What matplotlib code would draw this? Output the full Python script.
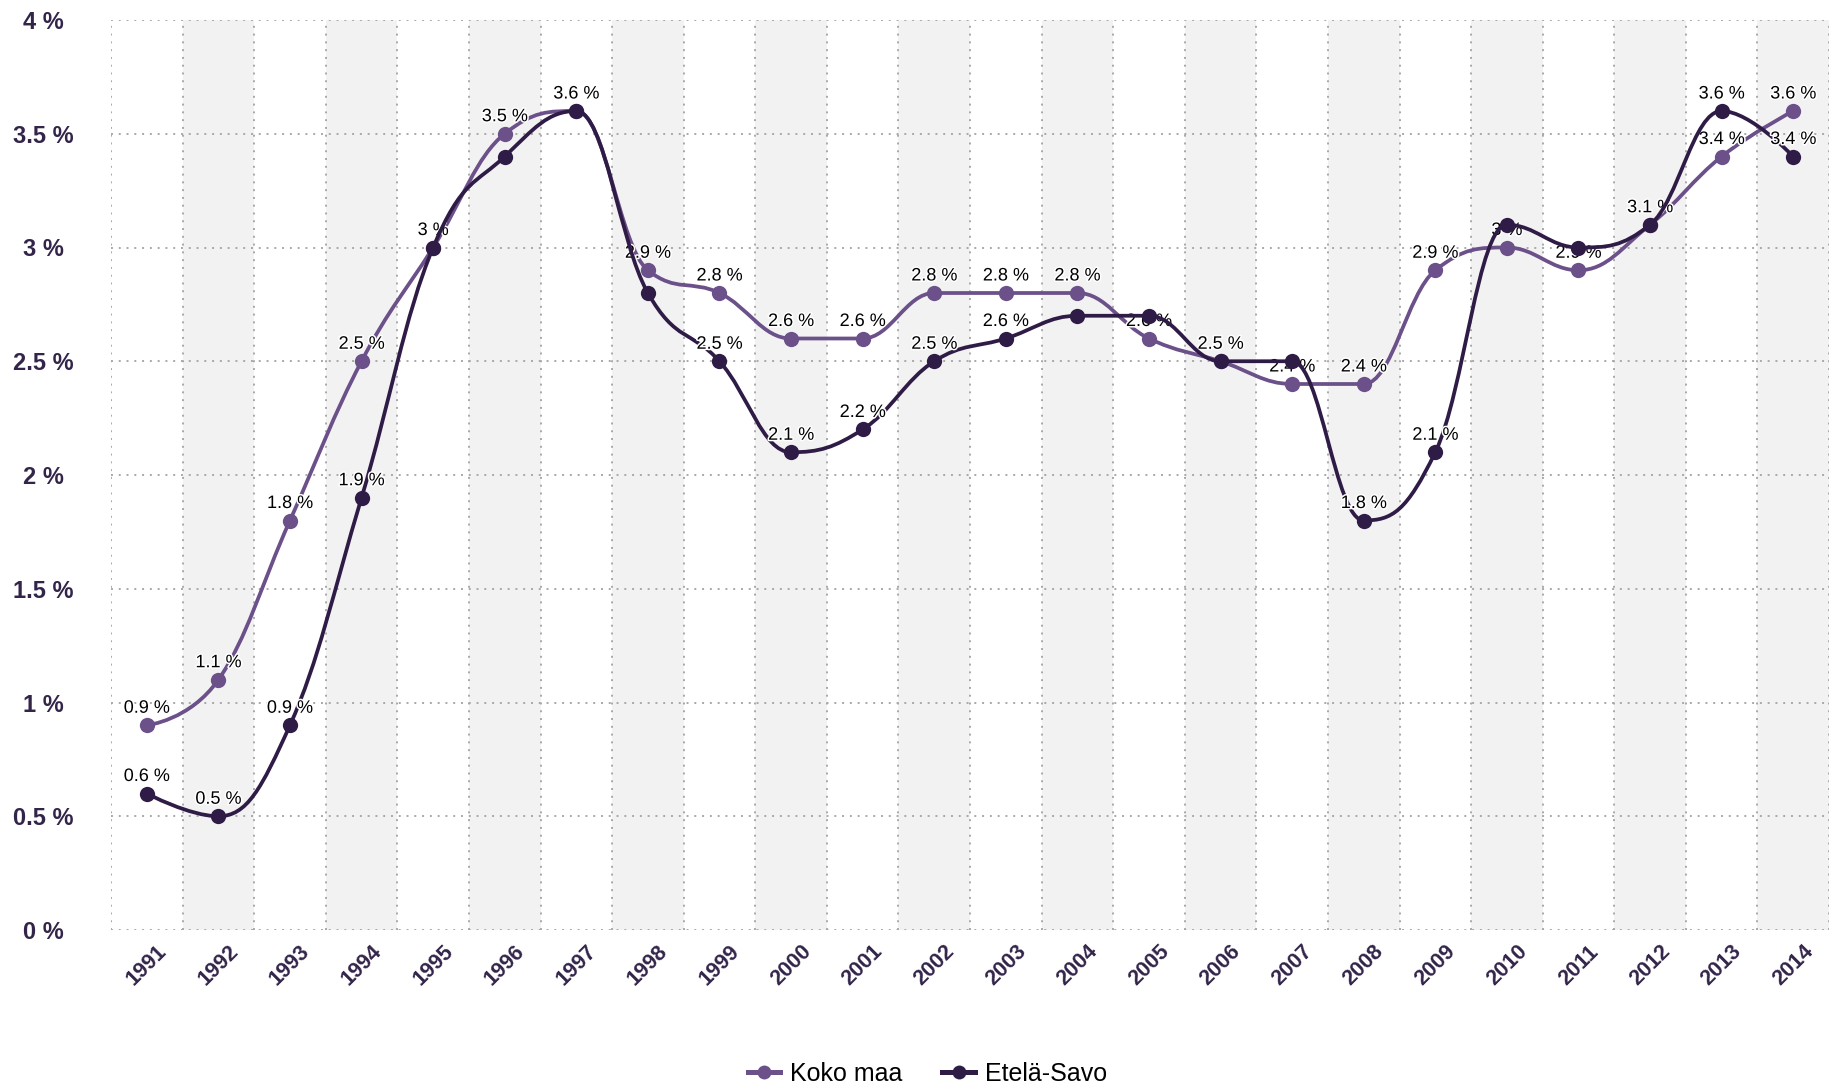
import matplotlib
matplotlib.use('Agg')
import matplotlib.pyplot as plt
from matplotlib.path import Path
from matplotlib.patches import PathPatch
import matplotlib.patheffects as pe
from matplotlib.lines import Line2D

years = ['1991', '1992', '1993', '1994', '1995', '1996', '1997', '1998', '1999', '2000',
         '2001', '2002', '2003', '2004', '2005', '2006', '2007', '2008', '2009', '2010',
         '2011', '2012', '2013', '2014']
koko_maa = [0.9, 1.1, 1.8, 2.5, 3.0, 3.5, 3.6, 2.9, 2.8, 2.6, 2.6, 2.8, 2.8, 2.8,
            2.6, 2.5, 2.4, 2.4, 2.9, 3.0, 2.9, 3.1, 3.4, 3.6]
etela_savo = [0.6, 0.5, 0.9, 1.9, 3.0, 3.4, 3.6, 2.8, 2.5, 2.1, 2.2, 2.5, 2.6, 2.7,
              2.7, 2.5, 2.5, 1.8, 2.1, 3.1, 3.0, 3.1, 3.6, 3.4]
# which data labels are visible (overlapping ones hidden, as in the original)
koko_maa_labels = [True] * 24
etela_savo_labels = [True, True, True, True, False, False, False, False, True, True,
                     True, True, True, False, False, False, False, True, True, False,
                     False, False, True, True]
y_ticks = [0, 0.5, 1, 1.5, 2, 2.5, 3, 3.5, 4]
series_names = ['Koko maa', 'Etelä-Savo']

C_KOKO = '#6b5089'
C_ETELA = '#2f1c46'
C_TICK = '#33254a'

plt.rcParams['font.family'] = ['Liberation Sans', 'DejaVu Sans']


def hc_spline(xs, ys, smoothing=1.5):
    n = len(xs)
    lc = [None] * n
    rc = [None] * n
    for i in range(1, n - 1):
        px, py = xs[i], ys[i]
        lx, ly = xs[i - 1], ys[i - 1]
        nx, ny = xs[i + 1], ys[i + 1]
        d = smoothing + 1
        lcx = (smoothing * px + lx) / d
        lcy = (smoothing * py + ly) / d
        rcx = (smoothing * px + nx) / d
        rcy = (smoothing * py + ny) / d
        corr = 0.0
        if rcx != lcx:
            corr = ((rcy - lcy) * (rcx - px)) / (rcx - lcx) + py - rcy
        lcy += corr
        rcy += corr
        if lcy > ly and lcy > py:
            lcy = max(ly, py); rcy = 2 * py - lcy
        elif lcy < ly and lcy < py:
            lcy = min(ly, py); rcy = 2 * py - lcy
        if rcy > ny and rcy > py:
            rcy = max(ny, py); lcy = 2 * py - rcy
        elif rcy < ny and rcy < py:
            rcy = min(ny, py); lcy = 2 * py - rcy
        lc[i] = (lcx, lcy)
        rc[i] = (rcx, rcy)
    verts = [(xs[0], ys[0])]
    codes = [Path.MOVETO]
    for i in range(1, n):
        c1 = rc[i - 1] if rc[i - 1] is not None else (xs[i - 1], ys[i - 1])
        c2 = lc[i] if lc[i] is not None else (xs[i], ys[i])
        verts += [c1, c2, (xs[i], ys[i])]
        codes += [Path.CURVE4] * 3
    return Path(verts, codes)


fig = plt.figure(figsize=(18.29, 10.88), dpi=100)
ax = fig.add_axes([111 / 1829, 158 / 1088, 1718 / 1829, 910 / 1088])
x = list(range(len(years)))

ax.set_xlim(-0.5, len(years) - 0.5)
ax.set_ylim(0, 4)
for s in ax.spines.values():
    s.set_visible(False)

# alternating bands
for i in x:
    if i % 2 == 1:
        ax.axvspan(i - 0.5, i + 0.5, color='#f2f2f2', zorder=0, lw=0)

# grid
grid_kw = dict(color='#a8a8a8', lw=1.4, ls=(0, (1, 3)), zorder=1)
for yv in y_ticks:
    ax.axhline(yv, **grid_kw)
for i in range(len(years) + 1):
    ax.axvline(i - 0.5, **grid_kw)

ax.set_yticks(y_ticks)
ax.set_yticklabels([f'{v:g} %' for v in y_ticks], fontsize=17, fontweight='bold',
                   color=C_TICK, ha='center')
ax.tick_params(axis='y', length=0, pad=49)
ax.set_xticks(x)
ax.set_xticklabels(years, rotation=45, ha='center', va='top', fontsize=15.5,
                   fontweight='bold', color=C_TICK)
ax.tick_params(axis='x', length=0, pad=8)

outline = [pe.withStroke(linewidth=2.2, foreground='white')]

def draw_series(vals, color, flags, z):
    ax.add_patch(PathPatch(hc_spline(x, vals), facecolor='none', edgecolor=color,
                           lw=2.7, zorder=z, capstyle='round', joinstyle='round'))
    ax.plot(x, vals, 'o', ls='none', color=color, ms=11, mew=0, zorder=z + 0.1)
    for xi, v, f in zip(x, vals, flags):
        if f:
            ax.annotate(f'{v:g} %', (xi, v), xytext=(0, 9), textcoords='offset points',
                        ha='center', va='baseline', fontsize=13, color='black',
                        path_effects=outline, zorder=z + 0.5)

draw_series(koko_maa, C_KOKO, koko_maa_labels, 3)
draw_series(etela_savo, C_ETELA, etela_savo_labels, 5)

handles = [Line2D([], [], color=C_KOKO, lw=3.6, marker='o', ms=10, mew=0),
           Line2D([], [], color=C_ETELA, lw=3.6, marker='o', ms=10, mew=0)]
fig.legend(handles, series_names, loc='center', bbox_to_anchor=(0.507, 14 / 1088),
           ncol=2, frameon=False, fontsize=18, handlelength=1.3, handletextpad=0.4,
           columnspacing=1.6)

fig.savefig('out.png', dpi=100, facecolor='white')
